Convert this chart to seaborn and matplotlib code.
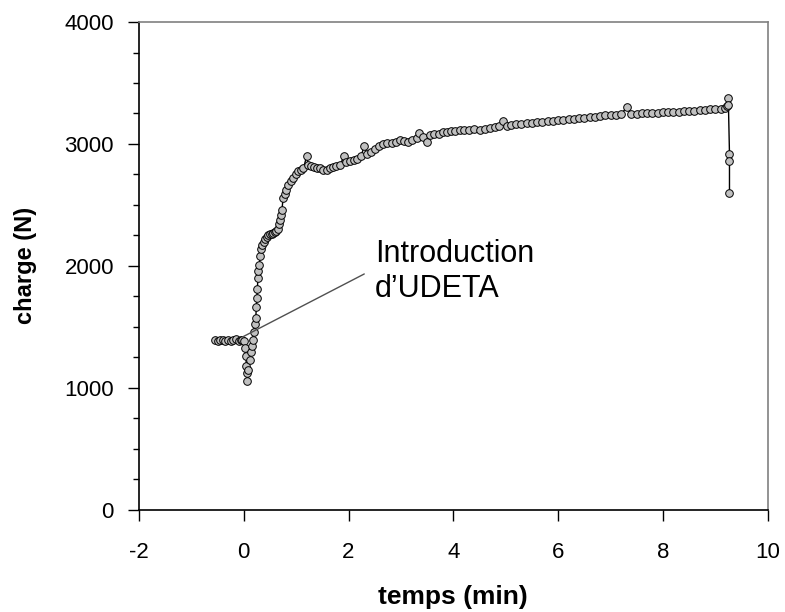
import pandas as pd
import seaborn as sns
from matplotlib import pyplot as plt
from matplotlib.ticker import MultipleLocator

# temps (min) / charge (N)
temps = [-0.55, -0.50, -0.45, -0.40, -0.35, -0.30, -0.25, -0.20, -0.15, -0.10, -0.06, -0.03, 0.00,
         0.02, 0.04, 0.05, 0.06, 0.07, 0.09, 0.11, 0.13, 0.15, 0.17, 0.19, 0.21, 0.23, 0.24,
         0.25, 0.26, 0.27, 0.28, 0.30, 0.31, 0.33, 0.35, 0.38, 0.41, 0.44, 0.47, 0.50, 0.53,
         0.56, 0.59, 0.62, 0.65, 0.67, 0.69, 0.71, 0.73, 0.75, 0.78, 0.81, 0.85, 0.90, 0.94,
         0.99, 1.04, 1.09, 1.14, 1.20, 1.23, 1.28, 1.34, 1.40, 1.46, 1.52, 1.58, 1.64, 1.70,
         1.77, 1.84, 1.92, 1.96, 2.03, 2.10, 2.17, 2.24, 2.30, 2.35, 2.42, 2.50, 2.58, 2.66,
         2.74, 2.82, 2.90, 2.98, 3.06, 3.14, 3.22, 3.30, 3.35, 3.42, 3.49, 3.56, 3.64, 3.72,
         3.80, 3.88, 3.96, 4.04, 4.12, 4.20, 4.30, 4.40, 4.50, 4.60, 4.70, 4.80, 4.88, 4.95,
         5.02, 5.10, 5.20, 5.30, 5.40, 5.50, 5.60, 5.70, 5.80, 5.90, 6.00, 6.10, 6.20, 6.30,
         6.40, 6.50, 6.60, 6.70, 6.80, 6.90, 7.00, 7.10, 7.20, 7.31, 7.40, 7.50, 7.60, 7.70,
         7.80, 7.90, 8.00, 8.10, 8.20, 8.30, 8.40, 8.50, 8.60, 8.70, 8.80, 8.90, 9.00, 9.10,
         9.18, 9.22, 9.25, 9.25, 9.27, 9.27, 9.27]
charge = [1390, 1385, 1395, 1390, 1388, 1395, 1385, 1392, 1398, 1388, 1395, 1390, 1385,
          1330, 1260, 1180, 1120, 1060, 1150, 1230, 1290, 1340, 1395, 1460, 1520, 1575, 1665,
          1740, 1810, 1900, 1960, 2010, 2080, 2140, 2170, 2200, 2220, 2240, 2250, 2260, 2265,
          2270, 2275, 2285, 2300, 2340, 2380, 2420, 2460, 2555, 2590, 2620, 2660, 2700, 2720,
          2750, 2775, 2790, 2800, 2900, 2830, 2820, 2810, 2800, 2800, 2790, 2785, 2800, 2815,
          2820, 2830, 2905, 2850, 2860, 2870, 2880, 2900, 2985, 2920, 2935, 2960, 2985, 3000,
          3005, 3010, 3020, 3030, 3025, 3020, 3035, 3050, 3090, 3060, 3020, 3070, 3080, 3085,
          3095, 3095, 3105, 3110, 3112, 3115, 3115, 3120, 3118, 3125, 3130, 3140, 3145, 3190,
          3150, 3155, 3160, 3165, 3170, 3175, 3180, 3180, 3185, 3190, 3195, 3200, 3205, 3208,
          3210, 3215, 3220, 3225, 3230, 3235, 3238, 3240, 3245, 3300, 3245, 3248, 3250, 3252,
          3255, 3258, 3260, 3262, 3264, 3266, 3268, 3270, 3272, 3275, 3280, 3285, 3288, 3290,
          3295, 3310, 3375, 3320, 2920, 2860, 2600]

df = pd.DataFrame({"temps": temps, "charge": charge})

sns.set_style("ticks")
plt.rcParams['font.family'] = ['Liberation Sans', 'DejaVu Sans']
plt.rcParams['axes.unicode_minus'] = False
plt.rcParams['text.color'] = 'black'
plt.rcParams['axes.labelcolor'] = 'black'
plt.rcParams['xtick.color'] = 'black'
plt.rcParams['ytick.color'] = 'black'

fig, ax = plt.subplots(figsize=(7.85, 6.12), dpi=100)
fig.subplots_adjust(left=0.177, right=0.978, bottom=0.167, top=0.964)

sns.lineplot(data=df, x="temps", y="charge", ax=ax, sort=False, estimator=None,
             color="black", linewidth=1, marker="o", markersize=5.5,
             markerfacecolor="#c0c0c0", markeredgecolor="black", markeredgewidth=0.7)

ax.set_xlim(-2, 10)
ax.set_ylim(0, 4000)
ax.xaxis.set_major_locator(MultipleLocator(2))
ax.yaxis.set_major_locator(MultipleLocator(1000))
ax.yaxis.set_minor_locator(MultipleLocator(250))
ax.tick_params(axis="both", which="major", direction="out", length=8, width=1,
               labelsize=16)
ax.tick_params(axis="y", which="major", pad=10)
ax.tick_params(axis="x", which="major", pad=15)
ax.tick_params(axis="y", which="minor", direction="out", length=4.5, width=1)

for side in ["top", "right"]:
    ax.spines[side].set_visible(True)
    ax.spines[side].set_color("#808080")
    ax.spines[side].set_linewidth(1.2)
for side in ["left", "bottom"]:
    ax.spines[side].set_color("black")
    ax.spines[side].set_linewidth(1.2)

ax.set_xlabel("temps (min)", fontsize=19, fontweight="bold", labelpad=16)
ax.set_ylabel("charge (N)", fontsize=17, fontweight="bold", labelpad=20)

# annotation
ax.plot([-0.02, 2.30], [1418, 1934], color="#505050", linewidth=1)
ax.text(2.50, 2033, "Introduction", fontsize=22, va="baseline", ha="left")
ax.text(2.50, 1746, "d\u2019UDETA", fontsize=22, va="baseline", ha="left")

plt.savefig("out.png", dpi=100)
